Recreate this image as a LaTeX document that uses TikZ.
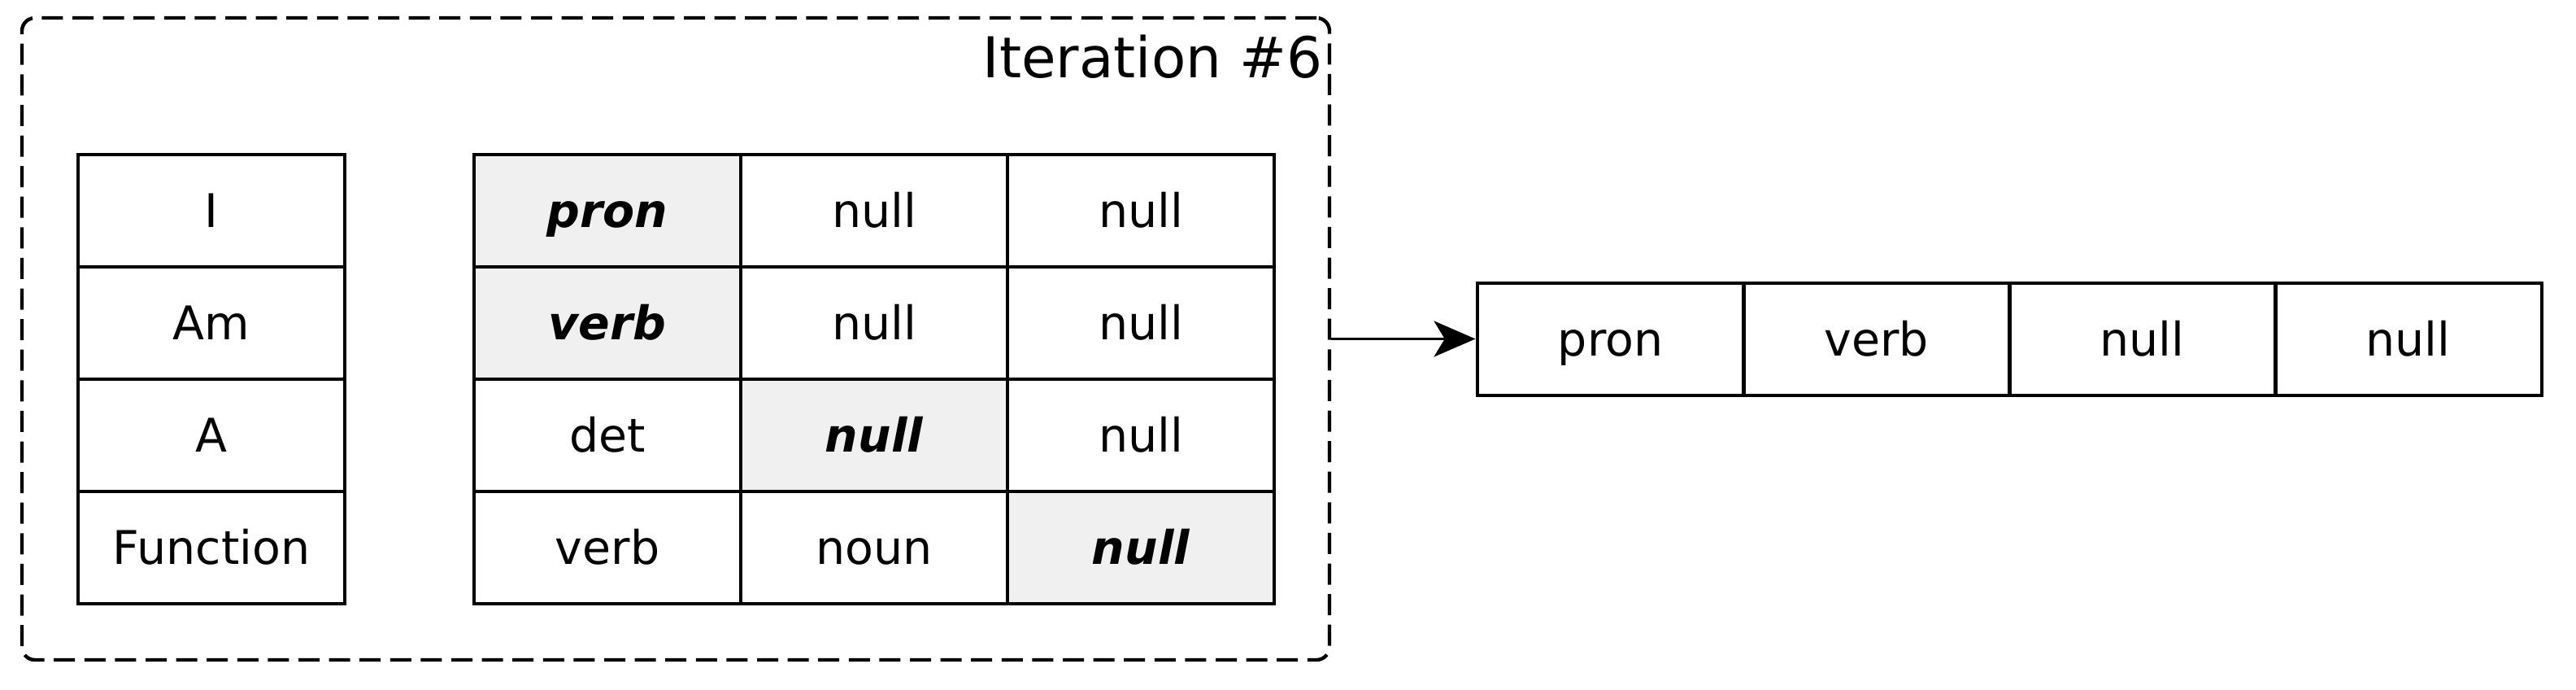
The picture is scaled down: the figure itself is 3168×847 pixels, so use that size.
\documentclass[tikz,border=0pt]{standalone}
\usepackage{fontspec}
\setmainfont{DejaVu Sans}
\usetikzlibrary{arrows.meta}
\definecolor{cellgray}{HTML}{F0F0F0}
\tikzset{
  cell/.style={draw=black, line width=1pt, minimum width=82pt, minimum height=34.5pt,
    inner sep=0pt, text height=10.3pt, text depth=0pt, font=\fontsize{14.25}{17}\selectfont},
  hl/.style={cell, fill=cellgray, font=\fontsize{14.25}{17}\selectfont\bfseries\itshape},
  frame/.style={draw=black, line width=1.1pt, dash pattern=on 6.5pt off 2.9pt, rounded corners=4pt,
    minimum width=402pt, minimum height=197.25pt, inner sep=0pt},
  title/.style={inner sep=0pt, anchor=base east, font=\fontsize{17.3}{21}\selectfont},
  link/.style={line width=0.95pt, -{Stealth[length=12.75pt, width=11pt, inset=3.3pt]}}
}
\begin{document}
\begin{tikzpicture}[x=0.25pt, y=-0.25pt]
\useasboundingbox (0,0) rectangle (3168,847);
% frame
\node[frame] (frame) at (831,416.5) {};
\node[title] (title) at (1627,95) {Iteration \#6};
% left table
\node[cell] (w1) at (260,259) {I};
\node[cell] (w2) at (260,397) {Am};
\node[cell] (w3) at (260,535) {A};
\node[cell] (w4) at (260,673) {Function};
% middle table
\node[hl]   (m11) at (747,259)  {pron};
\node[cell] (m12) at (1075,259) {null};
\node[cell] (m13) at (1403,259) {null};
\node[hl]   (m21) at (747,397)  {verb};
\node[cell] (m22) at (1075,397) {null};
\node[cell] (m23) at (1403,397) {null};
\node[cell] (m31) at (747,535)  {det};
\node[hl]   (m32) at (1075,535) {null};
\node[cell] (m33) at (1403,535) {null};
\node[cell] (m41) at (747,673)  {verb};
\node[cell] (m42) at (1075,673) {noun};
\node[hl]   (m43) at (1403,673) {null};
% output row
\node[cell] (o1) at (1980.5,416.5) {pron};
\node[cell] (o2) at (2307.5,416.5) {verb};
\node[cell] (o3) at (2634.5,416.5) {null};
\node[cell] (o4) at (2961.5,416.5) {null};
% arrow
\draw[link] (frame.east) -- (o1.west);
\end{tikzpicture}
\end{document}
